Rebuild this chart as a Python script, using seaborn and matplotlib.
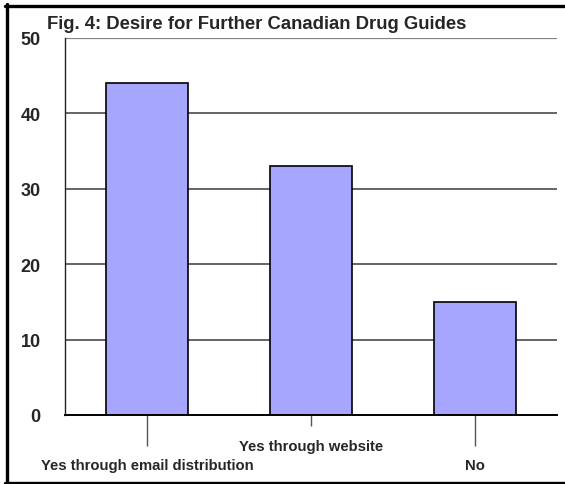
import matplotlib
matplotlib.use("Agg")
import matplotlib.pyplot as plt
import seaborn as sns
from matplotlib.lines import Line2D

# data
categories = ["Yes through email distribution", "Yes through website", "No"]
responses = [44, 33, 15]
y_ticks = [0, 10, 20, 30, 40, 50]
title = "Fig. 4: Desire for Further Canadian Drug Guides"

sns.set_style("white")
plt.rcParams["font.family"] = ["Liberation Sans", "DejaVu Sans"]
plt.rcParams["font.weight"] = "bold"

fig = plt.figure(figsize=(5.65, 4.85), dpi=100)
ax = fig.add_axes([0.115, 0.1423, 0.871, 0.7773])

sns.barplot(x=categories, y=responses, color="#A6A6FF", saturation=1,
            edgecolor="black", linewidth=1.2, width=0.5, ax=ax)

ax.set_xlim(-0.5, 2.5)
ax.set_ylim(0, 50)
ax.set_yticks(y_ticks)
ax.set_yticklabels([str(v) for v in y_ticks], fontsize=13, fontweight="bold")
ax.set_xlabel("")
ax.set_ylabel("")

ax.set_axisbelow(True)
ax.yaxis.grid(True, color="#3a3a3a", linewidth=1.1)
ax.get_ygridlines()[-1].set_color("#808080")
ax.get_ygridlines()[-1].set_linewidth(1.6)

for side in ["top", "right"]:
    ax.spines[side].set_visible(False)
ax.spines["left"].set_color("#222222")
ax.spines["left"].set_linewidth(1.0)
ax.spines["bottom"].set_color("black")
ax.spines["bottom"].set_linewidth(1.4)

ax.tick_params(axis="y", length=9.4, width=1.0, color="#555555", pad=8)
ax.tick_params(axis="x", length=8, width=1.0, color="#555555", pad=9,
               bottom=True)
ax.set_xticks(range(len(categories)))
ax.set_xticklabels(categories, fontsize=10.7, fontweight="bold")

# staggered category labels: outer ones sit lower with longer ticks
for i, tick in enumerate(ax.xaxis.get_major_ticks()):
    if i % 2 == 0:
        tick.set_pad(9 + 14.3)
        tick.tick1line.set_markersize(22.3)

fig.text(0.083, 0.967, title, fontsize=13.3, fontweight="bold",
         ha="left", va="top")

# frame around the figure (top, left, bottom only)
W, H = 565, 485
for xs, ys in [([5, 565], [6.5, 6.5]), ([6.5, 6.5], [5, 484]),
               ([5, 565], [483.5, 483.5])]:
    fig.add_artist(Line2D([x / W for x in xs], [1 - y / H for y in ys],
                          color="black", linewidth=2.4,
                          transform=fig.transFigure))

fig.savefig("out.png", dpi=100)
